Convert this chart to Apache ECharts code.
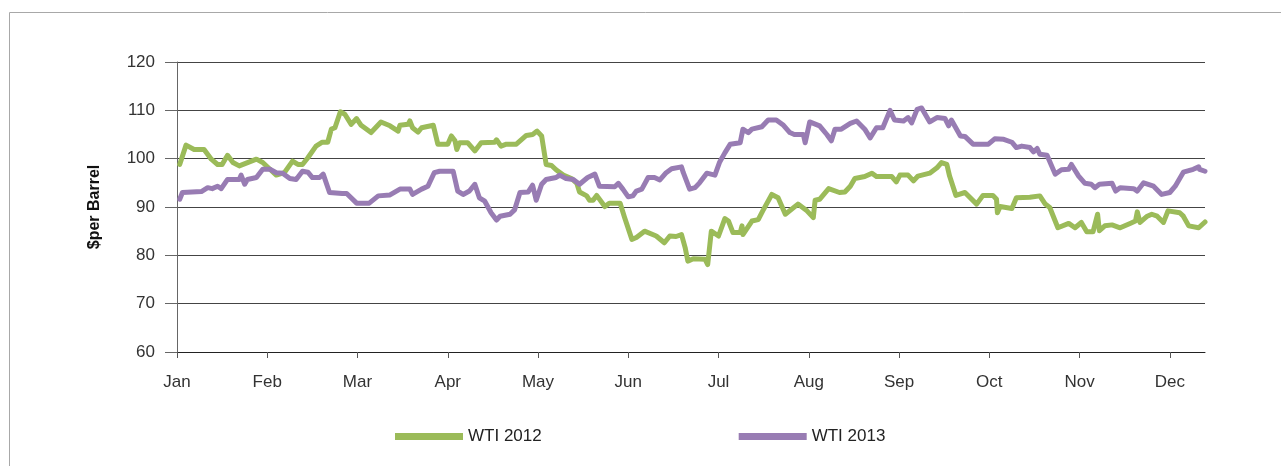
<!DOCTYPE html>
<html>
<head>
<meta charset="utf-8">
<title>WTI 2012 vs 2013</title>
<script src="https://cdn.jsdelivr.net/npm/echarts@6/dist/echarts.min.js"></script>
<style>
  html, body { margin: 0; padding: 0; background: #fff; }
  #chart { width: 1281px; height: 466px; }
</style>
</head>
<body>
<div id="chart"></div>
<script>
  // x = position in months from 1 Jan (0 = Jan, 1 = Feb, ...), y = $ per barrel
  var months = ['Jan', 'Feb', 'Mar', 'Apr', 'May', 'Jun', 'Jul', 'Aug', 'Sep', 'Oct', 'Nov', 'Dec']
  var yTicks = [60, 70, 80, 90, 100, 110, 120]

  var wti2012 = [
    [0.03, 98.8], [0.10, 102.8], [0.19, 101.9], [0.30, 101.9], [0.38, 99.9], [0.45, 98.8],
    [0.50, 98.8], [0.56, 100.7], [0.62, 99.2], [0.69, 98.5], [0.88, 99.9], [0.95, 99.2],
    [1.03, 97.8], [1.10, 96.6], [1.19, 97.1], [1.28, 99.5], [1.34, 98.8], [1.39, 98.8],
    [1.45, 100.2], [1.54, 102.6], [1.61, 103.4], [1.67, 103.4], [1.71, 106.1], [1.75, 106.4],
    [1.81, 109.7], [1.86, 109.2], [1.93, 107.1], [1.99, 108.3], [2.04, 106.9], [2.15, 105.4],
    [2.26, 107.6], [2.36, 106.8], [2.45, 105.7], [2.47, 106.9], [2.56, 107.1], [2.58, 107.8],
    [2.61, 106.4], [2.67, 105.5], [2.71, 106.4], [2.84, 106.9], [2.89, 103.0], [3.00, 103.0],
    [3.04, 104.7], [3.08, 103.7], [3.10, 101.9], [3.13, 103.3], [3.22, 103.3], [3.30, 101.6],
    [3.37, 103.3], [3.52, 103.4], [3.54, 103.9], [3.59, 102.6], [3.65, 103.0], [3.76, 103.0],
    [3.87, 104.8], [3.94, 105.0], [3.99, 105.7], [4.04, 104.7], [4.09, 98.8], [4.15, 98.6],
    [4.20, 97.7], [4.28, 96.6], [4.37, 95.9], [4.43, 94.9], [4.46, 93.1], [4.54, 92.3],
    [4.57, 91.4], [4.61, 91.4], [4.65, 92.4], [4.74, 90.1], [4.79, 90.8], [4.91, 90.8],
    [4.96, 87.8], [5.04, 83.3], [5.09, 83.7], [5.18, 85.0], [5.31, 84.0], [5.40, 82.6],
    [5.46, 84.0], [5.53, 83.9], [5.59, 84.3], [5.63, 81.6], [5.66, 78.8], [5.72, 79.3],
    [5.85, 79.2], [5.88, 78.1], [5.92, 85.0], [6.00, 84.0], [6.07, 87.6], [6.11, 87.1],
    [6.16, 84.7], [6.24, 84.7], [6.26, 86.1], [6.27, 84.3], [6.37, 87.1], [6.44, 87.4],
    [6.49, 89.2], [6.59, 92.6], [6.66, 91.9], [6.74, 88.5], [6.88, 90.6], [6.98, 89.2],
    [7.05, 87.8], [7.07, 91.4], [7.12, 91.6], [7.22, 93.8], [7.34, 93.0], [7.40, 93.1],
    [7.46, 94.3], [7.51, 95.9], [7.62, 96.3], [7.70, 97.0], [7.75, 96.3], [7.92, 96.3],
    [7.97, 95.2], [8.01, 96.6], [8.10, 96.6], [8.16, 95.4], [8.21, 96.4], [8.34, 97.0],
    [8.42, 98.1], [8.47, 99.2], [8.53, 98.8], [8.56, 96.4], [8.63, 92.4], [8.73, 93.0],
    [8.86, 90.6], [8.93, 92.4], [9.04, 92.4], [9.08, 91.6], [9.09, 88.8], [9.12, 90.1],
    [9.25, 89.7], [9.30, 91.9], [9.45, 92.0], [9.56, 92.3], [9.62, 90.6], [9.67, 89.9],
    [9.76, 85.7], [9.88, 86.6], [9.95, 85.7], [10.02, 86.8], [10.08, 84.9], [10.15, 84.9],
    [10.20, 88.5], [10.22, 85.1], [10.28, 86.1], [10.36, 86.3], [10.45, 85.7], [10.56, 86.6],
    [10.62, 87.1], [10.64, 89.0], [10.67, 86.8], [10.75, 88.1], [10.80, 88.5], [10.86, 88.1],
    [10.93, 86.8], [10.98, 89.2], [11.11, 88.8], [11.15, 88.1], [11.21, 86.1], [11.32, 85.7],
    [11.39, 86.9]
  ]

  var wti2013 = [
    [0.03, 91.6], [0.06, 93.0], [0.27, 93.2], [0.34, 94.0], [0.39, 93.8], [0.45, 94.3],
    [0.49, 93.8], [0.56, 95.7], [0.69, 95.7], [0.71, 96.6], [0.75, 94.7], [0.78, 95.7],
    [0.88, 96.1], [0.95, 97.8], [1.03, 97.8], [1.10, 97.1], [1.17, 97.0], [1.25, 95.9],
    [1.32, 95.7], [1.39, 97.4], [1.45, 97.2], [1.50, 96.1], [1.58, 96.1], [1.62, 96.8],
    [1.69, 93.0], [1.83, 92.8], [1.88, 92.8], [1.99, 90.8], [2.13, 90.8], [2.23, 92.3],
    [2.36, 92.5], [2.47, 93.7], [2.58, 93.7], [2.61, 92.6], [2.71, 93.7], [2.78, 94.3],
    [2.85, 97.1], [2.91, 97.4], [3.06, 97.4], [3.11, 93.3], [3.17, 92.6], [3.24, 93.3],
    [3.30, 94.7], [3.35, 91.9], [3.41, 91.2], [3.48, 88.8], [3.54, 87.3], [3.58, 88.1],
    [3.69, 88.5], [3.74, 89.4], [3.80, 93.0], [3.89, 93.1], [3.94, 94.5], [3.98, 91.4],
    [4.04, 94.7], [4.09, 95.7], [4.20, 96.1], [4.24, 96.6], [4.31, 95.9], [4.39, 95.7],
    [4.46, 94.7], [4.55, 96.1], [4.63, 96.8], [4.68, 94.3], [4.85, 94.2], [4.89, 94.9],
    [4.94, 93.7], [5.00, 92.1], [5.05, 92.3], [5.09, 93.3], [5.15, 93.7], [5.22, 96.1],
    [5.29, 96.1], [5.35, 95.6], [5.42, 97.1], [5.48, 97.9], [5.59, 98.3], [5.61, 97.1],
    [5.68, 93.7], [5.74, 94.0], [5.79, 95.0], [5.87, 97.0], [5.96, 96.6], [6.01, 99.2],
    [6.07, 101.2], [6.13, 103.0], [6.24, 103.3], [6.27, 106.1], [6.33, 105.4], [6.37, 106.1],
    [6.48, 106.6], [6.55, 108.0], [6.64, 108.0], [6.72, 106.9], [6.79, 105.4], [6.84, 105.0],
    [6.94, 105.0], [6.96, 103.3], [7.01, 107.6], [7.12, 106.8], [7.20, 105.0], [7.25, 103.7],
    [7.29, 106.1], [7.36, 106.1], [7.46, 107.3], [7.53, 107.8], [7.62, 106.1], [7.68, 104.3],
    [7.75, 106.4], [7.82, 106.4], [7.90, 110.0], [7.95, 108.0], [8.05, 107.8], [8.10, 108.5],
    [8.14, 107.4], [8.20, 110.2], [8.25, 110.5], [8.34, 107.6], [8.42, 108.5], [8.51, 108.3],
    [8.55, 106.8], [8.58, 108.0], [8.68, 104.7], [8.73, 104.6], [8.82, 103.0], [8.99, 103.0],
    [9.06, 104.1], [9.08, 103.7], [9.16, 104.0], [9.25, 103.4], [9.30, 102.3], [9.36, 102.6],
    [9.45, 102.3], [9.49, 101.4], [9.53, 102.1], [9.56, 100.9], [9.64, 100.7], [9.73, 96.8],
    [9.80, 97.7], [9.88, 97.8], [9.91, 98.8], [9.99, 96.4], [10.06, 94.9], [10.13, 94.7],
    [10.17, 94.0], [10.22, 94.7], [10.36, 94.9], [10.40, 93.3], [10.45, 94.0], [10.60, 93.8],
    [10.64, 93.3], [10.71, 95.0], [10.82, 94.3], [10.91, 92.6], [11.00, 93.0], [11.06, 94.3],
    [11.15, 97.2], [11.26, 97.8], [11.32, 98.3], [11.33, 97.8], [11.39, 97.4]
  ]

  var monthTicks = months.map(function (m, i) { return i })
  var textFont = "'Liberation Sans', Arial, Helvetica, sans-serif"

  var chart = echarts.init(document.getElementById('chart'))
  chart.setOption({
    animation: false,
    textStyle: { fontFamily: textFont },
    graphic: [{
      type: 'rect',
      shape: { x: 9.5, y: 12.5, width: 1300, height: 500 },
      style: { fill: 'none', stroke: '#a8a8a8', lineWidth: 1 },
      silent: true
    }],
    grid: {
      left: 177,
      right: 76,
      top: 62,
      bottom: 114
    },
    legend: {
      left: 390,
      top: 423,
      itemWidth: 68,
      itemHeight: 7,
      itemGap: 197,
      icon: 'rect',
      textStyle: { fontSize: 17, color: '#222', fontFamily: textFont },
      data: ['WTI 2012', 'WTI 2013']
    },
    xAxis: {
      type: 'value',
      min: 0,
      max: 11.39,
      interval: 1,
      axisLine: { lineStyle: { color: '#222', width: 1 } },
      axisTick: {
        show: true,
        length: 6,
        customValues: monthTicks,
        lineStyle: { color: '#555' }
      },
      axisLabel: {
        customValues: monthTicks,
        margin: 22,
        fontSize: 17,
        color: '#333',
        formatter: function (v) { return months[Math.round(v)] || '' }
      },
      splitLine: { show: false }
    },
    yAxis: {
      type: 'value',
      min: yTicks[0],
      max: yTicks[yTicks.length - 1],
      interval: 10,
      name: '$per Barrel',
      nameLocation: 'middle',
      nameGap: 74,
      nameTextStyle: { fontSize: 16, fontWeight: 'bold', color: '#111', fontFamily: textFont },
      axisLine: { show: true, lineStyle: { color: '#666' } },
      axisTick: { show: true, length: 12, lineStyle: { color: '#666' } },
      axisLabel: { margin: 22, fontSize: 17, color: '#333' },
      splitLine: { show: true, lineStyle: { color: '#444', width: 1 } }
    },
    series: [
      {
        name: 'WTI 2012',
        type: 'line',
        data: wti2012,
        showSymbol: false,
        itemStyle: { color: '#9BBB59' },
        lineStyle: { color: '#9BBB59', width: 5, join: 'round', cap: 'round' }
      },
      {
        name: 'WTI 2013',
        type: 'line',
        data: wti2013,
        showSymbol: false,
        itemStyle: { color: '#987CB3' },
        lineStyle: { color: '#987CB3', width: 5, join: 'round', cap: 'round' }
      }
    ]
  })
</script>
</body>
</html>
